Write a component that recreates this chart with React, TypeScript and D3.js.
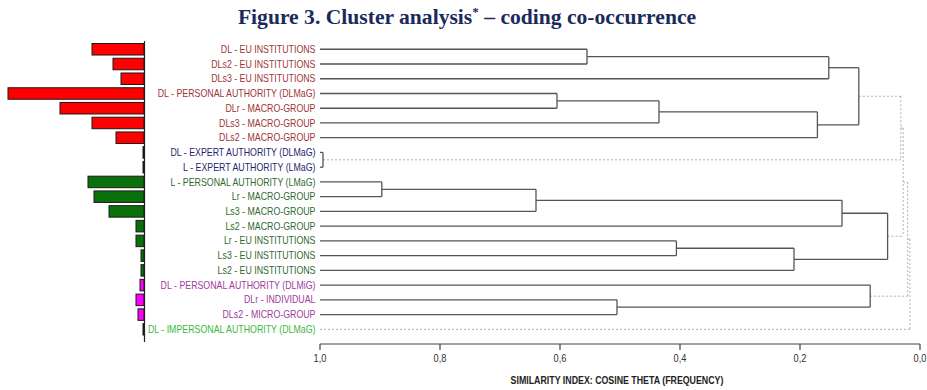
import * as d3 from 'd3';

// leaf labels, top to bottom
const labels = [
  'DL - EU INSTITUTIONS',
  'DLs2 - EU INSTITUTIONS',
  'DLs3 - EU INSTITUTIONS',
  'DL - PERSONAL AUTHORITY (DLMaG)',
  'DLr - MACRO-GROUP',
  'DLs3 - MACRO-GROUP',
  'DLs2 - MACRO-GROUP',
  'DL - EXPERT AUTHORITY (DLMaG)',
  'L - EXPERT AUTHORITY (LMaG)',
  'L - PERSONAL AUTHORITY (LMaG)',
  'Lr - MACRO-GROUP',
  'Ls3 - MACRO-GROUP',
  'Ls2 - MACRO-GROUP',
  'Lr -  EU INSTITUTIONS',
  'Ls3 - EU INSTITUTIONS',
  'Ls2 - EU INSTITUTIONS',
  'DL - PERSONAL AUTHORITY (DLMiG)',
  'DLr - INDIVIDUAL',
  'DLs2 - MICRO-GROUP',
  'DL - IMPERSONAL AUTHORITY (DLMaG)',
];

// coding frequency (bar length), same order
const frequency = [52, 31, 23, 136, 84, 52, 28, 1, 1, 56, 50, 35, 8, 8, 3, 3, 4, 8, 6, 1];

// colour group of each leaf
const groups = ['dl', 'dl', 'dl', 'dl', 'dl', 'dl', 'dl', 'exp', 'exp', 'l', 'l', 'l', 'l', 'l', 'l', 'l', 'mi', 'mi', 'mi', 'imp'];

// merges: [childA, childB, similarity]; new node ids start at 20
const merges: [number, number, number][] = [
  [0, 1, 0.555],
  [20, 2, 0.152],
  [3, 4, 0.605],
  [22, 5, 0.435],
  [23, 6, 0.171],
  [21, 24, 0.102],
  [7, 8, 0.995],
  [25, 26, 0.032],
  [9, 10, 0.897],
  [28, 11, 0.64],
  [29, 12, 0.13],
  [13, 14, 0.406],
  [31, 15, 0.21],
  [30, 32, 0.054],
  [27, 33, 0.028],
  [17, 18, 0.505],
  [16, 35, 0.083],
  [34, 36, 0.0205],
  [37, 19, 0.0167],
];

const xTicks = [1, 0.8, 0.6, 0.4, 0.2, 0];

const barFill: Record<string, string> = { dl: '#ff0000', exp: '#1c1c6a', l: '#0a700a', mi: '#ff00ff', imp: '#2e8b2e' };
const labelFill: Record<string, string> = { dl: '#9e3535', exp: '#25256e', l: '#2f6a2f', mi: '#a03aa0', imp: '#3cb83c' };

const sans = "'Liberation Sans', Arial, sans-serif";
const squeeze = 0.84; // fake a narrow face

const W = 927;
const H = 390;

type Node = { id: number; sim: number; children?: Node[] };

function buildTree(): Node {
  const nodes: Node[] = labels.map((_, i) => ({ id: i, sim: 1 }));
  merges.forEach(([a, b, s], k) => {
    nodes.push({ id: labels.length + k, sim: s, children: [nodes[a], nodes[b]] });
  });
  return nodes[nodes.length - 1];
}

// text squeezed horizontally around its anchor point
function Narrow({ x, y, anchor, size, fill, weight, children }: any) {
  return (
    <g transform={`translate(${x},${y}) scale(${squeeze},1)`}>
      <text x={0} y={0} textAnchor={anchor} fontFamily={sans} fontSize={size} fontWeight={weight} fill={fill}>
        {children}
      </text>
    </g>
  );
}

export default function App() {
  const idx = labels.map((_, i) => i);
  const y = d3.scaleBand<number>().domain(idx).range([41.9, 336.7]).paddingInner(0.22).paddingOuter(0.11);
  const yc = (i: number) => (y(i) as number) + y.bandwidth() / 2;
  const xBar = d3.scaleLinear().domain([0, 136]).range([144, 8]);
  const x = d3.scaleLinear().domain([1, 0]).range([320, 920]);

  const root = d3.hierarchy(buildTree());
  // leaf y from the band scale, internal y = midpoint of children
  root.eachAfter((n: any) => {
    if (!n.children) n.py = yc(n.data.id);
    else n.py = (n.children[0].py + n.children[n.children.length - 1].py) / 2;
    n.px = x(n.data.sim);
  });

  const links: { d: string; dashed: boolean }[] = [];
  root.each((n: any) => {
    if (!n.children) return;
    const dashed = n.data.sim < 0.04;
    const c0 = n.children[0];
    const c1 = n.children[1];
    links.push({ d: `M${n.px},${c0.py}V${c1.py}`, dashed });
    n.children.forEach((c: any) => links.push({ d: `M${c.px},${c.py}H${n.px}`, dashed }));
  });

  return (
    <div style={{ position: 'absolute', left: 0, top: 0 }}>
      <svg width={W} height={H} style={{ display: 'block', background: '#fff' }}>
        <text x={467} y={24} textAnchor="middle" fontFamily="'Liberation Serif', 'Times New Roman', serif" fontWeight="bold" fontSize={21.6} fill="#1b2a5c">
          Figure 3. Cluster analysis
          <tspan fontSize={13} dy={-8}>*</tspan>
          <tspan dy={8}> – coding co-occurrence</tspan>
        </text>

        {/* frequency bars */}
        {idx.map((i) => (
          <rect key={i} x={xBar(frequency[i])} y={y(i)} width={xBar(0) - xBar(frequency[i])} height={y.bandwidth()}
            fill={barFill[groups[i]]} stroke="#1a1a1a" strokeWidth={1} />
        ))}
        <line x1={144.5} x2={144.5} y1={41} y2={342} stroke="#222" strokeWidth={1.2} />

        {/* leaf labels */}
        {idx.map((i) => (
          <Narrow key={i} x={315.5} y={yc(i) + 3.6} anchor="end" size={10.5} fill={labelFill[groups[i]]}>
            {labels[i]}
          </Narrow>
        ))}

        {/* dendrogram */}
        {links.map((l, k) => (
          <path key={k} d={l.d} fill="none" stroke={l.dashed ? '#b0b0b0' : '#555'} strokeWidth={l.dashed ? 1 : 1.3}
            strokeDasharray={l.dashed ? '2,2' : undefined} />
        ))}

        {/* similarity axis */}
        <line x1={x(1)} x2={x(0)} y1={344} y2={344} stroke="#444" strokeWidth={1.2} />
        {xTicks.map((t) => (
          <g key={t}>
            <line x1={x(t)} x2={x(t)} y1={344} y2={350} stroke="#444" strokeWidth={1.2} />
            <Narrow x={x(t)} y={362} anchor="middle" size={11} fill="#333">
              {d3.format('.1f')(t).replace('.', ',')}
            </Narrow>
          </g>
        ))}
        <Narrow x={617} y={384} anchor="middle" size={10.5} weight="bold" fill="#222">
          SIMILARITY INDEX: COSINE THETA (FREQUENCY)
        </Narrow>
      </svg>
    </div>
  );
}
